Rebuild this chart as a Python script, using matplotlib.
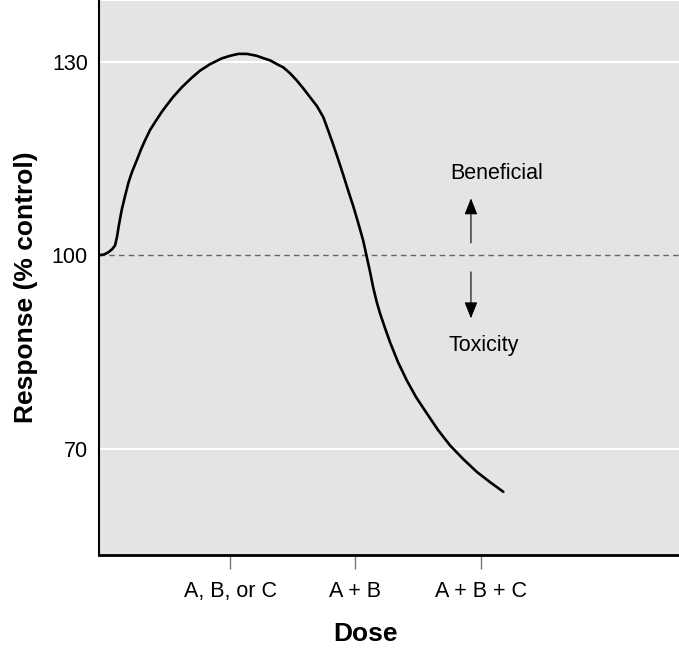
import matplotlib
matplotlib.use("Agg")
import matplotlib.pyplot as plt

plt.rcParams["font.family"] = ["Liberation Sans", "DejaVu Sans"]

bg = "#e4e4e4"

# dose axis positions (1 = single, 2 = A+B, 3 = A+B+C) and response (% control)
dose = [-0.036, -0.004, 0.028, 0.060, 0.084, 0.100, 0.116, 0.137, 0.159, 0.190,
        0.219, 0.257, 0.291, 0.323, 0.363, 0.402, 0.456, 0.498, 0.546, 0.615,
        0.695, 0.761, 0.841, 0.934, 1.000, 1.066, 1.135, 1.213, 1.271, 1.319,
        1.375, 1.425, 1.478, 1.531, 1.582, 1.637, 1.693, 1.743, 1.781, 1.823,
        1.861, 1.903, 1.940, 1.982, 2.020, 2.062, 2.089, 2.116, 2.142, 2.171,
        2.195, 2.235, 2.275, 2.339, 2.408, 2.482, 2.567, 2.657, 2.753, 2.857,
        2.966, 3.072, 3.178]
response = [100.0, 100.1, 100.4, 100.9, 101.5, 102.9, 104.8, 107.0, 108.8, 111.2,
            112.9, 114.7, 116.4, 117.8, 119.4, 120.6, 122.2, 123.3, 124.5, 126.0,
            127.5, 128.6, 129.6, 130.5, 130.9, 131.2, 131.2, 130.9, 130.5, 130.2,
            129.6, 129.1, 128.2, 127.1, 125.9, 124.5, 123.1, 121.4, 119.4, 117.1,
            114.9, 112.4, 110.1, 107.6, 105.1, 102.2, 99.8, 97.4, 94.9, 92.6,
            91.0, 88.7, 86.5, 83.4, 80.6, 78.0, 75.5, 72.9, 70.5, 68.4,
            66.4, 64.8, 63.3]

tick_pos = [1, 2, 3]
tick_labels = ["A, B, or C", "A + B", "A + B + C"]
y_ticks = [70, 100, 130]

fig = plt.figure(figsize=(6.79, 6.53), dpi=100)
ax = fig.add_axes([99 / 679, 1 - 555 / 653, 1 - 99 / 679, 554 / 653], facecolor=bg)

for v in [70, 130]:
    ax.axhline(v, color="white", lw=1.5, zorder=1)
ax.axhline(100, color="#666666", lw=1, ls=(0, (4, 3)), zorder=1)

ax.plot(dose, response, color="black", lw=1.9, zorder=3,
        solid_joinstyle="round", solid_capstyle="round")

# direction arrows
ax.annotate("", xy=(2.92, 108.8), xytext=(2.92, 101.9),
            arrowprops=dict(arrowstyle="-|>,head_length=0.5,head_width=0.2",
                            color="black", lw=0.8,
                            mutation_scale=20, shrinkA=0, shrinkB=0))
ax.annotate("", xy=(2.92, 90.2), xytext=(2.92, 97.4),
            arrowprops=dict(arrowstyle="-|>,head_length=0.5,head_width=0.2",
                            color="black", lw=0.8,
                            mutation_scale=20, shrinkA=0, shrinkB=0))
ax.text(3.127, 112.7, "Beneficial", fontsize=15.5, ha="center", va="center")
ax.text(3.024, 86.0, "Toxicity", fontsize=15.5, ha="center", va="center")

ax.set_xlim(-0.044, 4.578)
ax.set_ylim(53.5, 139.4)

ax.set_xticks(tick_pos)
ax.set_xticklabels(tick_labels, fontsize=15.5)
ax.set_yticks(y_ticks)
ax.set_yticklabels([str(v) for v in y_ticks], fontsize=15.5)
ax.tick_params(axis="x", length=10, width=1, color="#777777", pad=9)
ax.tick_params(axis="y", length=0, pad=8)

ax.spines["top"].set_visible(False)
ax.spines["right"].set_visible(False)
ax.spines["left"].set_linewidth(1.5)
ax.spines["bottom"].set_linewidth(2)

ax.set_xlabel("Dose", fontsize=19, fontweight="bold", labelpad=14, x=0.459)
ax.set_ylabel("Response (% control)", fontsize=19, fontweight="bold",
              labelpad=10, y=0.483)

fig.savefig("out.png", dpi=100)
